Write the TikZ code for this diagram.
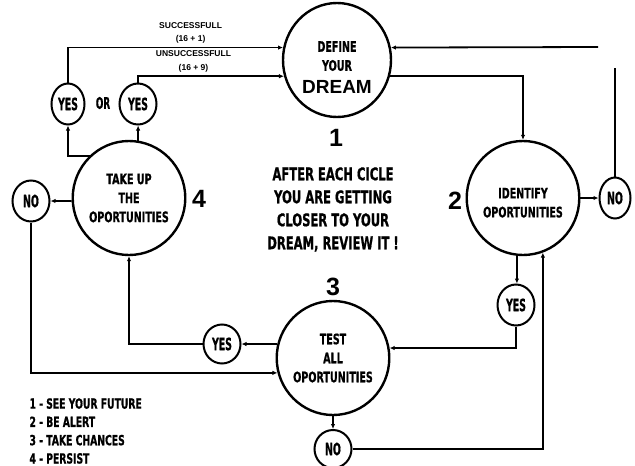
\documentclass[tikz,border=0pt]{standalone}
\usepackage{fontspec}
\setmainfont{Liberation Sans}
\newfontfamily\condfont{DejaVu Sans}[FakeStretch=0.66,FakeBold=0.8]
\newfontfamily\narrowfont{DejaVu Sans}[FakeStretch=0.55,FakeBold=0.8]
\usetikzlibrary{shapes.geometric}
\usetikzlibrary{arrows.meta}

\begin{document}
\begin{tikzpicture}[x=1pt,y=-1pt,
	stage/.style={ellipse,draw,line width=2.4pt,minimum width=108pt,minimum height=114pt,inner sep=0pt,align=center,font=\condfont\bfseries\fontsize{14.5}{19}\selectfont},
	answer/.style={ellipse,draw,line width=2pt,minimum width=37pt,minimum height=41pt,inner sep=0pt,font=\narrowfont\bfseries\fontsize{17}{17}\selectfont},
	flow/.style={line width=1.8pt,-{Latex[length=5pt,width=4.5pt]}},
	wire/.style={line width=1.8pt},
	stagenum/.style={font=\bfseries\fontsize{25}{25}\selectfont},
	remark/.style={align=center,font=\bfseries\fontsize{8.5}{13.5}\selectfont}]
		\useasboundingbox (0,0) rectangle (635,466);
		\path (337,60) node(dream)[stage]{\rule{0pt}{25pt}DEFINE\\YOUR\\[3.5pt]{\rmfamily\bfseries\fontsize{19}{19}\selectfont DREAM}}
		(523,198) node(ident)[stage]{\rule{0pt}{20pt}IDENTIFY\\OPORTUNITIES}
		(333,358) node(test)[stage]{TEST\\ALL\\OPORTUNITIES}
		(129,198) node(take)[stage]{TAKE UP\\THE\\OPORTUNITIES};
		\path (68,104) node(yesA)[answer,minimum width=33pt]{YES}
		(138,104) node(yesB)[answer]{YES}
		(103,103) node(orword)[font=\narrowfont\bfseries\fontsize{16}{16}\selectfont]{OR}
		(31,201) node(noL)[answer]{NO}
		(222,344) node(yesD)[answer,minimum height=39pt]{YES}
		(516,305) node(yesC)[answer]{YES}
		(615,198) node(noR)[answer,minimum width=31pt]{NO}
		(333,449) node(noB)[answer,minimum height=38pt]{NO};
		\path (336,138) node(one)[stagenum]{1}
		(455,201) node(two)[stagenum]{2}
		(333,287) node(three)[stagenum]{3}
		(199,199) node(four)[stagenum]{4};
		\path (333,209.5) node(cycle)[align=center,font=\condfont\bfseries\fontsize{17.5}{23}\selectfont]{AFTER EACH CICLE\\YOU ARE GETTING\\CLOSER TO YOUR\\DREAM, REVIEW IT !}
		(26,431) node(keys)[anchor=west,align=left,font=\condfont\bfseries\fontsize{14}{18.3}\selectfont]{1 - SEE YOUR FUTURE\\2 - BE ALERT\\3 - TAKE CHANCES\\4 - PERSIST};
		\coordinate (noTop) at (615,68);
		\coordinate (backEnd) at (598,47);
		\draw[flow] (yesA) |- node[remark,above,pos=0.785]{SUCCESSFULL\\(16 + 1)} (dream.167);
		\draw[flow] (yesB) |- node[remark,above,pos=0.69]{UNSUCCESSFULL\\(16 + 9)} (dream.197);
		\draw[flow] (dream.343) -| (ident);
		\draw[flow] (backEnd) -- (dream.13);
		\draw[flow] (ident) -- (noR);
		\draw[wire] (noR) -- (noTop);
		\draw[flow] (ident.264) -- (ident.264 |- yesC.north);
		\draw[flow] (yesC) |- (test.10);
		\draw[flow] (test.166) -- (yesD);
		\draw[flow] (yesD) -| (take);
		\draw[flow] (take.133) -| (yesA);
		\draw[flow] (take.81) -- (take.81 |- yesB.south);
		\draw[flow] (take.183) -- (noL);
		\draw[flow] (noL) |- (test.195);
		\draw[flow] (test) -- (noB);
		\draw[flow] (noB) -| (ident.290);
 \end{tikzpicture}
\end{document}
